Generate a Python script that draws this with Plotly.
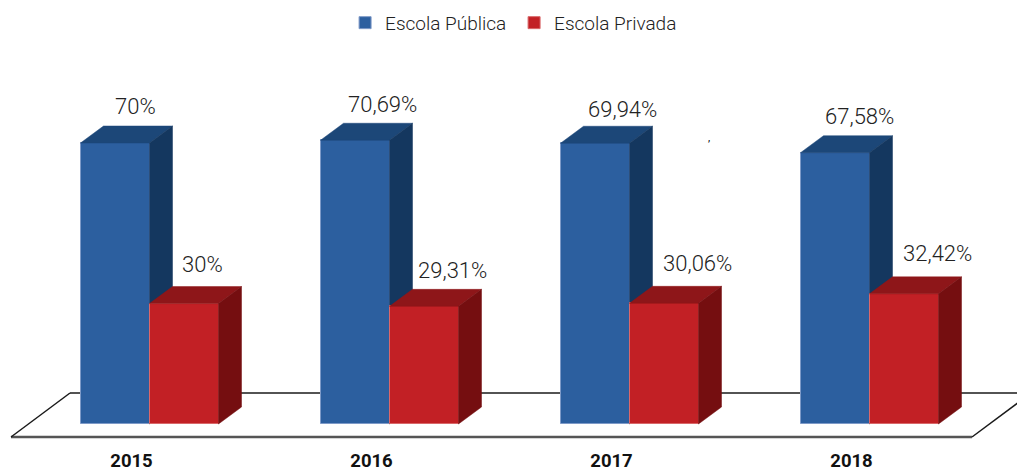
import plotly.graph_objects as go

years = ["2015", "2016", "2017", "2018"]
publica = [70, 70.69, 69.94, 67.58]
privada = [30, 29.31, 30.06, 32.42]
publica_labels = ["70%", "70,69%", "69,94%", "67,58%"]
privada_labels = ["30%", "29,31%", "30,06%", "32,42%"]

W, H = 1017, 470
PLOT_H = 447
PX_X = 240.0          # pixels per category
PX_Y = 4.014          # pixels per percent
X0 = 149.5            # pixel of the first category centre
Y0 = 424.0            # pixel of the baseline
BAR = 69 / PX_X
DX = 23 / PX_X
DY = 17 / PX_Y

xr = [-X0 / PX_X, (W - X0) / PX_X]
yr = [(Y0 - PLOT_H) / PX_Y, Y0 / PX_Y]
xs = list(range(len(years)))

BLUE, BLUE_TOP, BLUE_SIDE, BLUE_EDGE = "#2c5f9f", "#1c4778", "#14375f", "#7e9ac8"
RED, RED_TOP, RED_SIDE, RED_EDGE = "#c22025", "#8e1619", "#750e10", "#d9686a"
FONT = "Roboto"


def prism(x0, value, w, face):
    xa, ya = [], []
    for i, v in zip(x0, value):
        left = i + w[0]
        right = left + w[1]
        if face == "top":
            xa += [left, right, right + DX, left + DX, left, None]
            ya += [v, v, v + DY, v + DY, v, None]
        else:
            xa += [right, right + DX, right + DX, right, right, None]
            ya += [v, v + DY, DY, 0, v, None]
    return xa, ya


fig = go.Figure()


def add_series(name, values, offset, front, top, side, edge, xa, ya):
    fig.add_trace(go.Bar(
        x=xs, y=values, name=name, width=BAR, offset=offset,
        marker=dict(color=front, line=dict(color=edge, width=1)),
        xaxis=xa, yaxis=ya, hoverinfo="skip"))
    for face, colour in (("top", top), ("side", side)):
        px, py = prism(xs, values, (offset, BAR), face)
        fig.add_trace(go.Scatter(
            x=px, y=py, mode="lines", fill="toself", fillcolor=colour,
            line=dict(color=colour, width=0.5), showlegend=False,
            xaxis=xa, yaxis=ya, hoverinfo="skip"))


add_series("Escola Pública", publica, -BAR, BLUE, BLUE_TOP, BLUE_SIDE, BLUE_EDGE, "x", "y")
add_series("Escola Privada", privada, 0, RED, RED_TOP, RED_SIDE, RED_EDGE, "x2", "y2")

# floor
FRONT = -13 / PX_Y
BACK = 31 / PX_Y
FL = (11 - X0) / PX_X
FR = (972 - X0) / PX_X
SLANT = 59 / PX_X
floor = [
    dict(type="path", layer="below", xref="x", yref="y", line=dict(width=0), fillcolor="white",
         path=f"M{FL},{FRONT} L{FR},{FRONT} L{FR + SLANT},{BACK} L{FL + SLANT},{BACK} Z"),
    dict(type="line", layer="below", xref="x", yref="y", x0=FL, x1=FR, y0=FRONT, y1=FRONT,
         line=dict(color="#555555", width=2.5)),
    dict(type="line", layer="below", xref="x", yref="y", x0=FL + SLANT, x1=FR + SLANT, y0=BACK, y1=BACK,
         line=dict(color="#1a1a1a", width=1.5)),
    dict(type="line", layer="below", xref="x", yref="y", x0=FL, x1=FL + SLANT, y0=FRONT, y1=BACK,
         line=dict(color="#1a1a1a", width=1.5)),
    dict(type="line", layer="below", xref="x", yref="y", x0=FR, x1=FR + SLANT, y0=FRONT, y1=BACK,
         line=dict(color="#1a1a1a", width=1.5)),
]

# value labels: pixel nudges away from the bar's front-top centre
pub_shift = [(20, 37), (27, 36), (27, 34), (24, 36)]
pri_shift = [(18, 39), (28, 36), (33, 40), (33, 40)]
annotations = []
for i in xs:
    annotations.append(dict(x=i - BAR / 2, y=publica[i], text=publica_labels[i], xref="x", yref="y",
                            showarrow=False, xshift=pub_shift[i][0], yshift=pub_shift[i][1],
                            font=dict(family=FONT, size=22, color="#222222", weight=300)))
    annotations.append(dict(x=i + BAR / 2, y=privada[i], text=privada_labels[i], xref="x", yref="y",
                            showarrow=False, xshift=pri_shift[i][0], yshift=pri_shift[i][1],
                            font=dict(family=FONT, size=22, color="#222222", weight=300)))
# the small stray mark above the 2017 group
annotations.append(dict(x=2.33, y=71.5, text=",", xref="x", yref="y", showarrow=False,
                        font=dict(family=FONT, size=11, color="#000000")))

axis_common = dict(showgrid=False, zeroline=False, showline=False)
fig.update_layout(
    width=W, height=H, autosize=False,
    margin=dict(l=0, r=0, t=0, b=H - PLOT_H, autoexpand=False),
    paper_bgcolor="white", plot_bgcolor="white",
    bargap=0, showlegend=True,
    legend=dict(orientation="h", x=0.5055, xanchor="center", y=0.9915, yanchor="top",
                font=dict(family=FONT, size=19, color="#222222", weight=300),
                itemwidth=30, entrywidth=124, entrywidthmode="pixels",
                traceorder="normal", bgcolor="rgba(0,0,0,0)"),
    xaxis=dict(range=xr, tickmode="array", tickvals=[x - 18 / PX_X for x in xs], ticktext=years,
               ticks="", automargin=False,
               tickfont=dict(family=FONT, size=18.5, color="#111111", weight=700), **axis_common),
    yaxis=dict(range=yr, visible=False, **axis_common),
    xaxis2=dict(range=xr, overlaying="x", visible=False, anchor="y2", **axis_common),
    yaxis2=dict(range=yr, overlaying="y", visible=False, anchor="x2", **axis_common),
    shapes=floor, annotations=annotations,
)
fig.write_html("out.html", config=dict(displayModeBar=False),
               post_script="document.body.style.margin='0';")
